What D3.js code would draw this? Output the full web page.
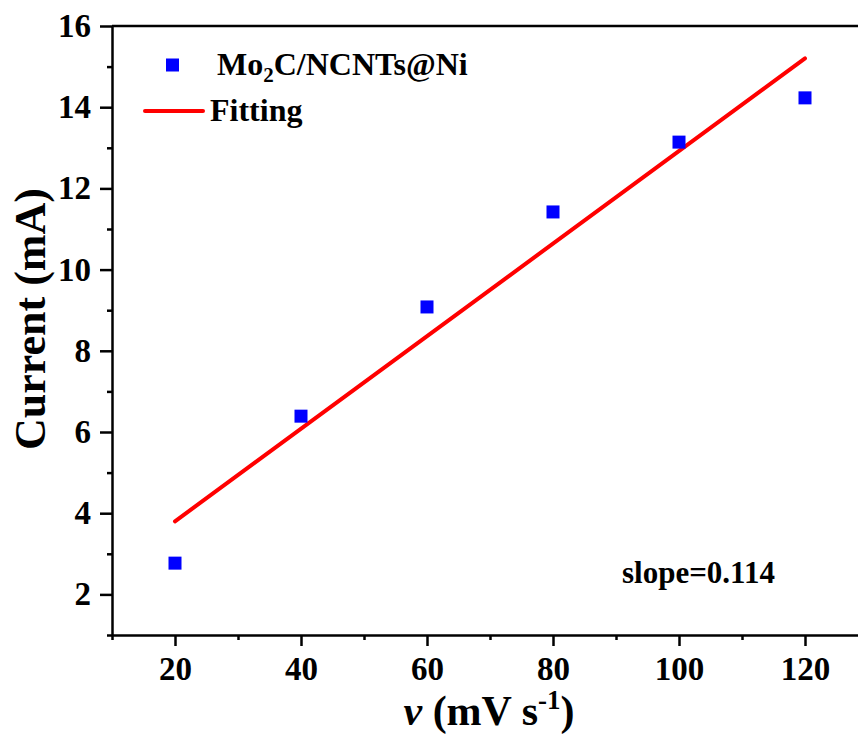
<!DOCTYPE html>
<html>
<head>
<meta charset="utf-8">
<script src="https://cdn.jsdelivr.net/npm/d3@7"></script>
<style>
  html, body { margin: 0; padding: 0; background: #fff; }
  svg { display: block; font-family: "Liberation Serif", "Times New Roman", serif; font-weight: bold; }
</style>
</head>
<body>
<svg id="chart"></svg>
<script>
// data
const scanRates = [20, 40, 60, 80, 100, 120];
const currents = [2.77, 6.39, 9.08, 11.42, 13.14, 14.23];
const fitX = [20, 120];
const fitY = [3.8, 15.2];
const xTicks = [20, 40, 60, 80, 100, 120];
const yTicks = [2, 4, 6, 8, 10, 12, 14, 16];
const seriesName = 'Mo2C/NCNTs@Ni';
const slopeLabel = 'slope=0.114';

const width = 858, height = 734;
const margin = { top: 26, left: 112, bottom: 99 };

const svg = d3.select('#chart')
  .attr('width', width)
  .attr('height', height);

const x = d3.scaleLinear().domain([10, 130]).range([margin.left, margin.left + 756]);
const y = d3.scaleLinear().domain([1, 16]).range([height - margin.bottom, margin.top]);

const g = svg.append('g');

// minor ticks
const xMinor = d3.range(10, 131, 10).filter(v => !xTicks.includes(v));
const yMinor = d3.range(1, 17, 1).filter(v => !yTicks.includes(v));

g.append('g')
  .attr('transform', `translate(0,${y(1)})`)
  .call(d3.axisBottom(x).tickValues(xMinor).tickSize(5).tickFormat(''))
  .call(s => s.select('.domain').remove())
  .selectAll('line').attr('stroke-width', 2.5);

g.append('g')
  .attr('transform', `translate(${x(10)},0)`)
  .call(d3.axisLeft(y).tickValues(yMinor).tickSize(5).tickFormat(''))
  .call(s => s.select('.domain').remove())
  .selectAll('line').attr('stroke-width', 2.5);

// major axes
const xAxis = g.append('g')
  .attr('transform', `translate(0,${y(1)})`)
  .call(d3.axisBottom(x).tickValues(xTicks).tickSize(11).tickPadding(11).tickSizeOuter(0));
xAxis.select('.domain').attr('stroke-width', 2.5);
xAxis.selectAll('line').attr('stroke-width', 2.5);
xAxis.selectAll('text')
  .attr('fill', '#000')
  .style('font-size', '33px')
  .style('font-family', '"Liberation Serif", serif')
  .style('font-weight', 'bold');

const yAxis = g.append('g')
  .attr('transform', `translate(${x(10)},0)`)
  .call(d3.axisLeft(y).tickValues(yTicks).tickSize(12).tickPadding(9).tickSizeOuter(0));
yAxis.select('.domain').attr('stroke-width', 2.5);
yAxis.selectAll('line').attr('stroke-width', 2.5);
yAxis.selectAll('text')
  .attr('fill', '#000')
  .style('font-size', '33px')
  .style('font-family', '"Liberation Serif", serif')
  .style('font-weight', 'bold');

// top frame (right side falls outside the picture)
g.append('line')
  .attr('x1', x(10)).attr('x2', x(130))
  .attr('y1', y(16)).attr('y2', y(16))
  .attr('stroke', '#000').attr('stroke-width', 2.5);
g.append('line')
  .attr('x1', x(130)).attr('x2', x(130))
  .attr('y1', y(16)).attr('y2', y(1))
  .attr('stroke', '#000').attr('stroke-width', 2.5);

// fitting line
const line = d3.line().x(d => x(d[0])).y(d => y(d[1]));
g.append('path')
  .datum(fitX.map((v, i) => [v, fitY[i]]))
  .attr('d', line)
  .attr('fill', 'none')
  .attr('stroke', '#ff0000')
  .attr('stroke-width', 4)
  .attr('stroke-linecap', 'round');

// data points
const sq = 13;
g.selectAll('.pt')
  .data(scanRates.map((v, i) => [v, currents[i]]))
  .enter()
  .append('rect')
  .attr('class', 'pt')
  .attr('x', d => x(d[0]) - sq / 2)
  .attr('y', d => y(d[1]) - sq / 2)
  .attr('width', sq)
  .attr('height', sq)
  .attr('fill', '#0000ff');

// legend
const leg = svg.append('g');
leg.append('rect')
  .attr('x', 172.5 - sq / 2).attr('y', 65 - sq / 2)
  .attr('width', sq).attr('height', sq)
  .attr('fill', '#0000ff');
const t1 = leg.append('text')
  .attr('x', 217).attr('y', 75)
  .style('font-size', '32px');
t1.append('tspan').text(seriesName.slice(0, 2));
t1.append('tspan').attr('dy', 7).style('font-size', '21px').text(seriesName.slice(2, 3));
t1.append('tspan').attr('dy', -7).text(seriesName.slice(3));

leg.append('line')
  .attr('x1', 145).attr('x2', 203)
  .attr('y1', 111).attr('y2', 111)
  .attr('stroke', '#ff0000').attr('stroke-width', 4)
  .attr('stroke-linecap', 'round');
leg.append('text')
  .attr('x', 210).attr('y', 121)
  .style('font-size', '32px')
  .text('Fitting');

// slope annotation
svg.append('text')
  .attr('x', 622).attr('y', 583)
  .style('font-size', '31px')
  .text(slopeLabel);

// axis titles
svg.append('text')
  .attr('transform', 'rotate(-90)')
  .attr('x', -319).attr('y', 45)
  .attr('text-anchor', 'middle')
  .style('font-size', '44px')
  .text('Current (mA)');

const xt = svg.append('text')
  .attr('x', 489).attr('y', 725)
  .attr('text-anchor', 'middle')
  .style('font-size', '42px');
xt.append('tspan').style('font-style', 'italic').text('v');
xt.append('tspan').text(' (mV s');
xt.append('tspan').attr('dy', -16).style('font-size', '27px').text('-1');
xt.append('tspan').attr('dy', 16).text(')');
</script>
</body>
</html>
